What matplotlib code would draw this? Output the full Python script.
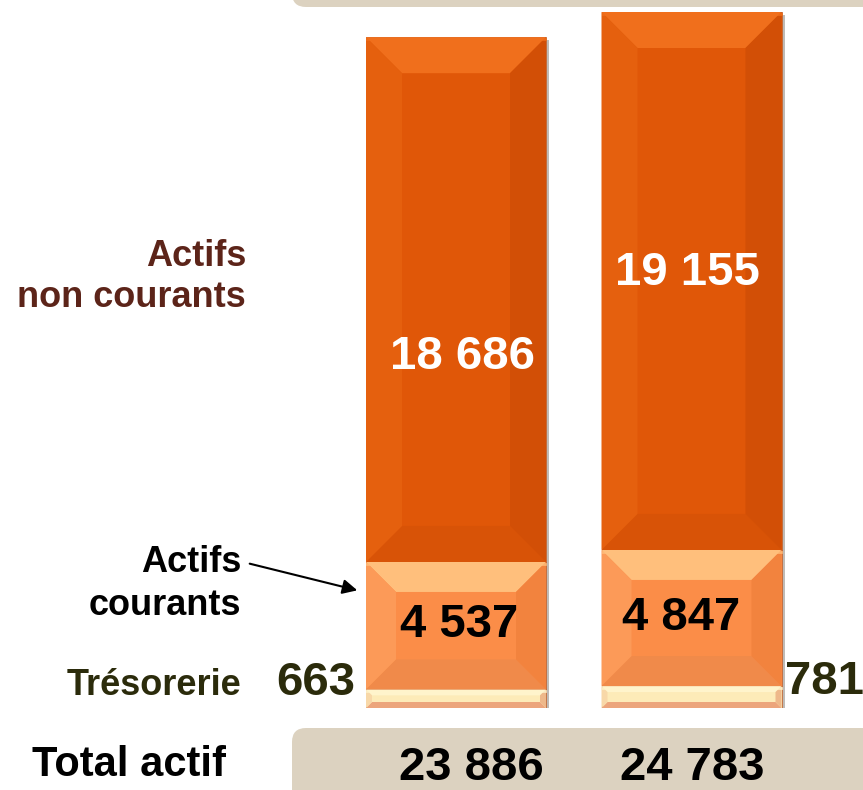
import numpy as np
import matplotlib.pyplot as plt
from matplotlib.patches import Polygon, FancyBboxPatch

# data
years = ["A", "B"]
tresorerie = [663, 781]
courants = [4537, 4847]
non_courants = [18686, 19155]
totals = [23886, 24783]


def fmt(v):
    return f"{v:,}".replace(",", " ")


W, H = 863, 790
fig = plt.figure(figsize=(W / 100, H / 100), dpi=100)

# overlay axes in pixel coords (y down) for banners and labels
bg = fig.add_axes([0, 0, 1, 1])
bg.set_xlim(0, W)
bg.set_ylim(H, 0)
bg.axis("off")
bg.patch.set_alpha(0)
bg.set_zorder(2)

bg.add_patch(FancyBboxPatch((292, -40), 620, 47, boxstyle="round,pad=0,rounding_size=14",
                            fc="#dcd2c0", ec="none"))
bg.add_patch(FancyBboxPatch((292, 728), 620, 100, boxstyle="round,pad=0,rounding_size=14",
                            fc="#dcd2c0", ec="none"))

# bar axes, data units
bar_bottom_px = 708
scale = (bar_bottom_px - 12) / max(totals)   # px per unit
ax = fig.add_axes([0, (H - bar_bottom_px) / H, 1, max(totals) * scale / H])
ax.set_xlim(0, W)
ax.set_ylim(0, max(totals))
ax.axis("off")
ax.patch.set_alpha(0)
ax.set_zorder(1)

xs = [456, 691.5]
bw = 180

seg_styles = [
    # face, top, left, right, bottom
    dict(face="#e05708", top="#f06f1c", left="#e5600e", right="#d24f06", bottom="#d85307", d=36),
    dict(face="#fb8d48", top="#ffbf7c", left="#fc9a58", right="#f2833e", bottom="#f08a4a", d=30),
    dict(face="#fdebb8", top="#fff4cc", left="#f8d8a8", right="#eeb88a", bottom="#eca57c", d=6),
]


def bevel(x0, x1, y0, y1, st):
    d = st["d"]
    dy = d / scale
    dx = d
    xi0, xi1, yi0, yi1 = x0 + dx, x1 - dx, y0 + dy, y1 - dy
    polys = [
        ([(x0, y1), (x1, y1), (xi1, yi1), (xi0, yi1)], st["top"]),
        ([(x0, y0), (x1, y0), (xi1, yi0), (xi0, yi0)], st["bottom"]),
        ([(x0, y0), (xi0, yi0), (xi0, yi1), (x0, y1)], st["left"]),
        ([(x1, y0), (xi1, yi0), (xi1, yi1), (x1, y1)], st["right"]),
    ]
    for pts, c in polys:
        ax.add_patch(Polygon(pts, closed=True, fc=c, ec="none", zorder=3))
    # thin highlight along the top edge
    ax.plot([x0 + 1, x1 - 1], [y1 - 2 / scale] * 2, color=st["top"], lw=2, zorder=4,
            alpha=0.8)


for i, x in enumerate(xs):
    # shadow
    ax.bar(x + 3, totals[i] + 40, bw, bottom=-150, color="#8c847c", alpha=0.55, zorder=1)
    bottoms = [0, tresorerie[i], tresorerie[i] + courants[i]]
    vals = [tresorerie[i], courants[i], non_courants[i]]
    styles = [seg_styles[2], seg_styles[1], seg_styles[0]]
    for b, v, st in zip(bottoms, vals, styles):
        ax.bar(x, v, bw, bottom=b, color=st["face"], edgecolor="#c06838", linewidth=0.6, zorder=2)
        bevel(x - bw / 2, x + bw / 2, b, b + v, st)

FONT = "Liberation Sans"


def txt(x, y, s, size, color="black", ha="center"):
    bg.text(x, y, s, fontsize=size, fontweight="bold", color=color, ha=ha, va="baseline",
            family=FONT, zorder=10)


brown = "#5c2419"
olive = "#2b2b0b"

txt(246, 266, "Actifs", 26, brown, "right")
txt(246, 307, "non courants", 26, brown, "right")
txt(241, 572, "Actifs", 26, "black", "right")
txt(241, 615, "courants", 26, "black", "right")
txt(241, 695, "Trésorerie", 26, olive, "right")

txt(462, 369, fmt(non_courants[0]), 34, "white")
txt(687, 285, fmt(non_courants[1]), 34, "white")
txt(459, 637, fmt(courants[0]), 34)
txt(681, 630, fmt(courants[1]), 34)
txt(316, 695, fmt(tresorerie[0]), 34, olive)
txt(824, 694, fmt(tresorerie[1]), 34, olive)

txt(129, 776, "Total actif", 30)
txt(471, 780, fmt(totals[0]), 34)
txt(692, 780, fmt(totals[1]), 34)

bg.annotate("", xy=(360, 591), xytext=(247, 563),
            arrowprops=dict(arrowstyle="-|>", color="black", lw=1.5, mutation_scale=22))

fig.savefig("out.png", dpi=100)
